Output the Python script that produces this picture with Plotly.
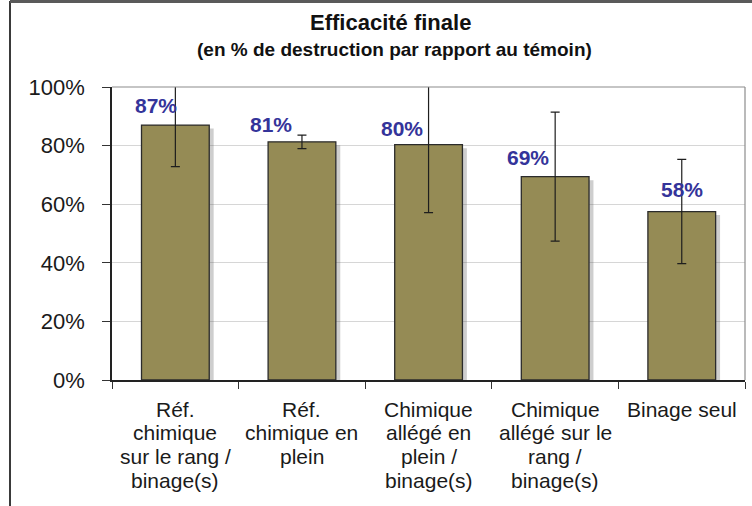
import plotly.graph_objects as go

# ---- data ----
categories = [
    "Réf. chimique sur le rang / binage(s)",
    "Réf. chimique en plein",
    "Chimique allégé en plein / binage(s)",
    "Chimique allégé sur le rang / binage(s)",
    "Binage seul",
]
category_lines = [
    ["Réf.", "chimique", "sur le rang /", "binage(s)"],
    ["Réf.", "chimique en", "plein"],
    ["Chimique", "allégé en", "plein /", "binage(s)"],
    ["Chimique", "allégé sur le", "rang /", "binage(s)"],
    ["Binage seul"],
]
efficacite = [0.870, 0.813, 0.803, 0.694, 0.575]
ecart = [0.142, 0.023, 0.232, 0.220, 0.178]
value_labels = ["87%", "81%", "80%", "69%", "58%"]
y_tick_vals = [0, 0.2, 0.4, 0.6, 0.8, 1.0]
y_tick_text = ["0%", "20%", "40%", "60%", "80%", "100%"]
title_text = "Efficacité finale"
subtitle_text = "(en % de destruction par rapport au témoin)"

# ---- styling / layout constants ----
W, H = 752, 506
L, R, T, B = 112, 7, 87, 126
PW, PH = W - L - R, H - T - B
FONT = "Liberation Sans, Arial, sans-serif"
BAR_COLOR = "#958b55"
LABEL_COLOR = "#34349a"
label_offsets = [(-19, 20), (-31, 17), (-27, 16), (-27, 19), (0, 22)]


def px_x(px):
    return (px - L) / PW


def px_y(py):
    return (H - B - py) / PH


fig = go.Figure()

# drop shadow of bars
fig.add_trace(go.Bar(
    x=categories, y=efficacite, base=-0.012,
    width=0.535, offset=-0.267 + 0.035,
    marker=dict(color="rgba(80,80,80,0.28)", line=dict(width=0)),
    hoverinfo="skip", showlegend=False,
))

# main bars with error bars
fig.add_trace(go.Bar(
    x=categories, y=efficacite,
    width=0.535, offset=-0.267,
    marker=dict(color=BAR_COLOR, line=dict(color="#2b2b2b", width=1.3)),
    error_y=dict(type="data", array=ecart, symmetric=True,
                 color="#1e1e1e", thickness=1.2, width=4.5),
    showlegend=False,
))

annotations = []
# value labels
for cat, val, txt, (dx, dy) in zip(categories, efficacite, value_labels, label_offsets):
    annotations.append(dict(
        x=cat, y=val, xref="x", yref="y", text=f"<b>{txt}</b>",
        showarrow=False, xanchor="center", yanchor="middle",
        xshift=dx, yshift=dy,
        font=dict(family=FONT, size=21, color=LABEL_COLOR),
    ))

# category labels (one annotation per line for tight line spacing)
for cat, lines in zip(categories, category_lines):
    for i, line in enumerate(lines):
        annotations.append(dict(
            x=cat, y=0, xref="x", yref="y", text=line,
            showarrow=False, xanchor="center", yanchor="middle",
            yshift=-(29 + 23.7 * i),
            font=dict(family=FONT, size=21, color="#1a1a1a"),
        ))

# titles
annotations.append(dict(
    x=px_x(390), y=px_y(22), xref="paper", yref="paper",
    text=f"<b>{title_text}</b>", showarrow=False,
    xanchor="center", yanchor="middle",
    font=dict(family=FONT, size=22, color="#111111"),
))
annotations.append(dict(
    x=px_x(394), y=px_y(50), xref="paper", yref="paper",
    text=f"<b>{subtitle_text}</b>", showarrow=False,
    xanchor="center", yanchor="middle",
    font=dict(family=FONT, size=19, color="#111111"),
))
# top edge of the outer frame (drawn as a thin filled annotation box)
annotations.append(dict(
    x=px_x(10), y=px_y(0), xref="paper", yref="paper",
    text=" ", showarrow=False, xanchor="left", yanchor="top",
    width=W - 10, height=2, bgcolor="#5a5a5a",
    borderpad=0, borderwidth=0,
    font=dict(family=FONT, size=1, color="#5a5a5a"),
))

shapes = [
    # outer frame (left edge)
    dict(type="line", xref="paper", yref="paper",
         x0=px_x(10), x1=px_x(10), y0=px_y(1), y1=px_y(H + 5),
         line=dict(color="#3a3a3a", width=2)),
    dict(type="line", xref="paper", yref="paper",
         x0=px_x(10), x1=px_x(W), y0=px_y(1.5), y1=px_y(1.5),
         line=dict(color="#5a5a5a", width=3)),
    # plot area top/right border
    dict(type="line", xref="paper", yref="paper",
         x0=0, x1=1, y0=1, y1=1, line=dict(color="#8c8c8c", width=1.2)),
    dict(type="line", xref="paper", yref="paper",
         x0=1, x1=1, y0=0, y1=1, line=dict(color="#8c8c8c", width=1.2)),
]

fig.update_layout(
    width=W, height=H,
    margin=dict(l=L, r=R, t=T, b=B, autoexpand=False),
    paper_bgcolor="white", plot_bgcolor="white",
    barmode="overlay", bargap=0.47,
    showlegend=False,
    annotations=annotations,
    shapes=shapes,
    font=dict(family=FONT, color="#1a1a1a"),
)

fig.update_xaxes(
    showticklabels=False, tickson="boundaries",
    ticks="outside", ticklen=7, tickcolor="#333333", tickwidth=1.2,
    showline=True, linecolor="#222222", linewidth=1.5,
    showgrid=False, zeroline=False, automargin=False,
)
fig.update_yaxes(
    range=[0, 1], tickvals=y_tick_vals, ticktext=y_tick_text,
    ticks="outside", ticklen=8, tickcolor="#333333", tickwidth=1.2,
    showline=True, linecolor="#222222", linewidth=1.5,
    showgrid=True, gridcolor="#d6d6d6", gridwidth=1,
    zeroline=False, ticklabelstandoff=13, automargin=False,
    tickfont=dict(family=FONT, size=22, color="#1a1a1a"),
)

fig.write_html(
    "out.html",
    config={"displayModeBar": False},
    post_script="document.body.style.margin='0px';document.body.style.padding='0px';",
)
